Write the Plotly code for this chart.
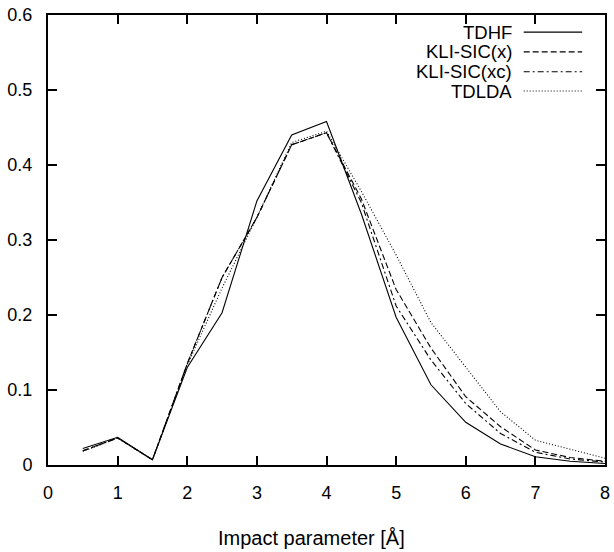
import plotly.graph_objects as go

x_vals = [0.5, 1, 1.5, 2, 2.5, 3, 3.5, 4, 4.5, 5, 5.5, 6, 6.5, 7, 7.5, 8]
tdhf = [0.022, 0.037, 0.007, 0.130, 0.203, 0.352, 0.440, 0.458, 0.335, 0.197, 0.107, 0.057, 0.028, 0.011, 0.005, 0.002]
kli_x = [0.019, 0.036, 0.007, 0.135, 0.250, 0.330, 0.427, 0.443, 0.355, 0.234, 0.156, 0.091, 0.051, 0.020, 0.010, 0.005]
kli_xc = [0.019, 0.036, 0.007, 0.135, 0.250, 0.330, 0.427, 0.443, 0.350, 0.212, 0.140, 0.082, 0.042, 0.017, 0.008, 0.004]
tdlda = [0.018, 0.036, 0.007, 0.133, 0.236, 0.330, 0.430, 0.445, 0.365, 0.280, 0.190, 0.130, 0.071, 0.033, 0.021, 0.009]

series_names = ["TDHF", "KLI-SIC(x)", "KLI-SIC(xc)", "TDLDA"]
series_vals = [tdhf, kli_x, kli_xc, tdlda]
dashes = ["solid", "6px,3px", "6px,3px,2px,3px", "1px,2px"]

x_ticks = [0, 1, 2, 3, 4, 5, 6, 7, 8]
y_ticks = [0, 0.1, 0.2, 0.3, 0.4, 0.5, 0.6]
y_tick_labels = ["0", "0.1", "0.2", "0.3", "0.4", "0.5", "0.6"]

FONT = "Liberation Sans, Arial, Helvetica, sans-serif"

fig = go.Figure()
for name, vals, d in zip(series_names, series_vals, dashes):
    fig.add_trace(go.Scatter(x=x_vals, y=vals, mode="lines", name=name,
                             line=dict(color="black", width=1.1, dash=d),
                             showlegend=False, hoverinfo="skip"))

# manual legend: text right-aligned, then line sample
leg_y = [0.962, 0.918, 0.874, 0.831]
for name, d, yy in zip(series_names, dashes, leg_y):
    fig.add_annotation(xref="paper", yref="paper", x=0.836, y=yy, text=name,
                       showarrow=False, xanchor="right", yanchor="middle",
                       font=dict(family=FONT, size=18.5, color="black"))
    fig.add_shape(type="line", xref="paper", yref="paper", x0=0.854, x1=0.959,
                  y0=yy, y1=yy, line=dict(color="black", width=1.1, dash=d))

fig.add_annotation(xref="paper", yref="paper", x=0.473, y=-0.162,
                   text="Impact parameter [Å]", showarrow=False,
                   xanchor="center", yanchor="middle",
                   font=dict(family=FONT, size=20, color="black"))

axis_common = dict(showline=True, linecolor="black", linewidth=2,
                   ticks="inside", ticklen=9, tickwidth=1.5, tickcolor="black",
                   mirror="ticks", showgrid=False, zeroline=False,
                   tickfont=dict(family=FONT, size=18, color="black"))

fig.update_xaxes(range=[0, 8], tickvals=x_ticks, ticklabelstandoff=10, **axis_common)
fig.update_yaxes(range=[0, 0.6], tickvals=y_ticks, ticktext=y_tick_labels,
                 ticklabelstandoff=10, **axis_common)

fig.update_layout(width=614, height=552,
                  margin=dict(l=48, r=4, t=15, b=87),
                  paper_bgcolor="white", plot_bgcolor="white",
                  font=dict(family=FONT, size=18, color="black"))

fig.write_html("out.html", config={"displayModeBar": False},
               post_script="document.body.style.margin='0px';document.body.style.overflow='hidden';")
